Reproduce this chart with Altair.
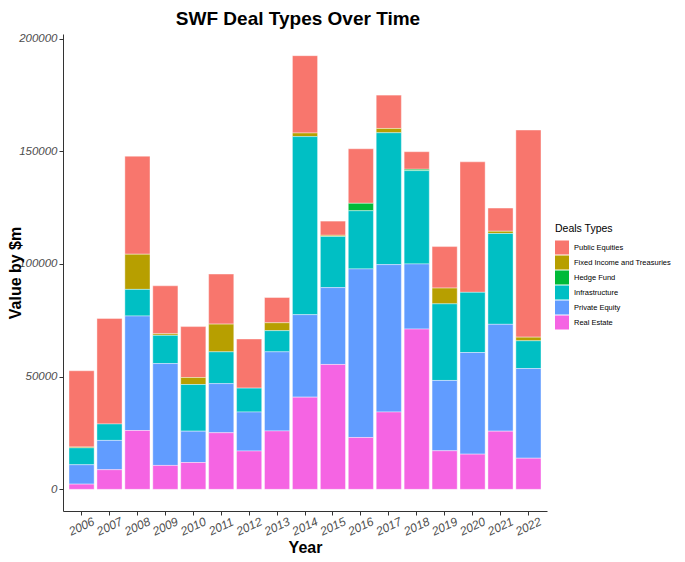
import altair as alt
import pandas as pd

years = [str(y) for y in range(2006, 2023)]
categories = ["Public Equities", "Fixed Income and Treasuries", "Hedge Fund",
              "Infrastructure", "Private Equity", "Real Estate"]
colors = ["#F8766D", "#B79F00", "#00BA38", "#00BFC4", "#619CFF", "#F564E3"]

real_estate = [2300, 8700, 26100, 10600, 11900, 25100, 17000, 25900, 40900, 55400, 23000, 34300, 71100, 17100, 15600, 25800, 13800]
private_equity = [8600, 13000, 50800, 45200, 13900, 21800, 17300, 35100, 36600, 34100, 74800, 65400, 28900, 31200, 45100, 47400, 39800]
infrastructure = [7500, 7300, 11800, 12500, 20700, 14100, 10600, 9400, 79000, 22700, 25800, 58500, 41400, 34000, 26700, 40300, 12300]
hedge_fund = [0, 0, 0, 0, 0, 0, 0, 0, 0, 0, 3300, 0, 600, 0, 0, 0, 0]
fixed_income = [400, 0, 15600, 700, 3100, 12300, 0, 3500, 1600, 500, 0, 1900, 0, 7000, 0, 1000, 1600]
public_equities = [33800, 46800, 43500, 21300, 22600, 22200, 21800, 11200, 34300, 6300, 24200, 14800, 7800, 18400, 57900, 10300, 91900]

series = {
    "Public Equities": public_equities,
    "Fixed Income and Treasuries": fixed_income,
    "Hedge Fund": hedge_fund,
    "Infrastructure": infrastructure,
    "Private Equity": private_equity,
    "Real Estate": real_estate,
}
stack_rank = {c: 5 - i for i, c in enumerate(categories)}

rows = []
for cat, vals in series.items():
    for y, v in zip(years, vals):
        if v > 0:
            rows.append({"Year": y, "Type": cat, "Value": v, "rank": stack_rank[cat]})
df = pd.DataFrame(rows)

font = "Liberation Sans"
H = 477

chart = alt.Chart(df).mark_bar(stroke="white", strokeWidth=0.4).encode(
    x=alt.X("Year:N", sort=years,
            scale=alt.Scale(paddingInner=0.1, paddingOuter=0.215),
            axis=alt.Axis(title="Year", labelAngle=-25, labelAlign="center",
                          labelBaseline="middle", labelPadding=11, tickSize=4,
                          labelFontStyle="italic", labelFontSize=12, labelColor="#4D4D4D",
                          titleFontSize=16, titleFontWeight="bold", titleColor="black",
                          titlePadding=2, domainColor="#333333", tickColor="#333333",
                          labelFont=font, titleFont=font)),
    y=alt.Y("Value:Q", stack="zero",
            scale=alt.Scale(domain=[-9620, 202020], nice=False, zero=False),
            axis=alt.Axis(title="Value by $m", values=[0, 50000, 100000, 150000, 200000],
                          format="d", grid=False, tickSize=4, labelPadding=2,
                          labelFontStyle="italic", labelFontSize=11.5, labelColor="#4D4D4D",
                          titleFontSize=16, titleFontWeight="bold", titleColor="black",
                          titleX=-48, titleY=H / 2, titleBaseline="middle",
                          titleAngle=270, titleAlign="center",
                          domainColor="#333333", tickColor="#333333",
                          labelFont=font, titleFont=font)),
    color=alt.Color("Type:N", scale=alt.Scale(domain=categories, range=colors),
                    legend=alt.Legend(title="Deals Types", orient="none",
                                      legendX=492, legendY=190,
                                      symbolType="square", symbolSize=196,
                                      symbolStrokeWidth=0, rowPadding=1,
                                      labelFontSize=7.5, titleFontSize=10.5,
                                      titleFontWeight="normal", titleColor="black",
                                      labelColor="black", labelOffset=5,
                                      titlePadding=6, padding=0, labelLimit=200,
                                      labelFont=font, titleFont=font)),
    order=alt.Order("rank:Q", sort="ascending"),
).properties(
    width=484, height=H,
    background="white",
    title=alt.TitleParams("SWF Deal Types Over Time", fontSize=19, fontWeight="bold",
                          font=font, anchor="middle", offset=4, dx=-7, color="black"),
    autosize=alt.AutoSizeParams(type="none"),
    padding={"left": 55, "top": 26, "right": 130, "bottom": 49},
).configure_view(stroke=None)

chart.save("out.html", embed_options={"renderer": "svg", "actions": False})
